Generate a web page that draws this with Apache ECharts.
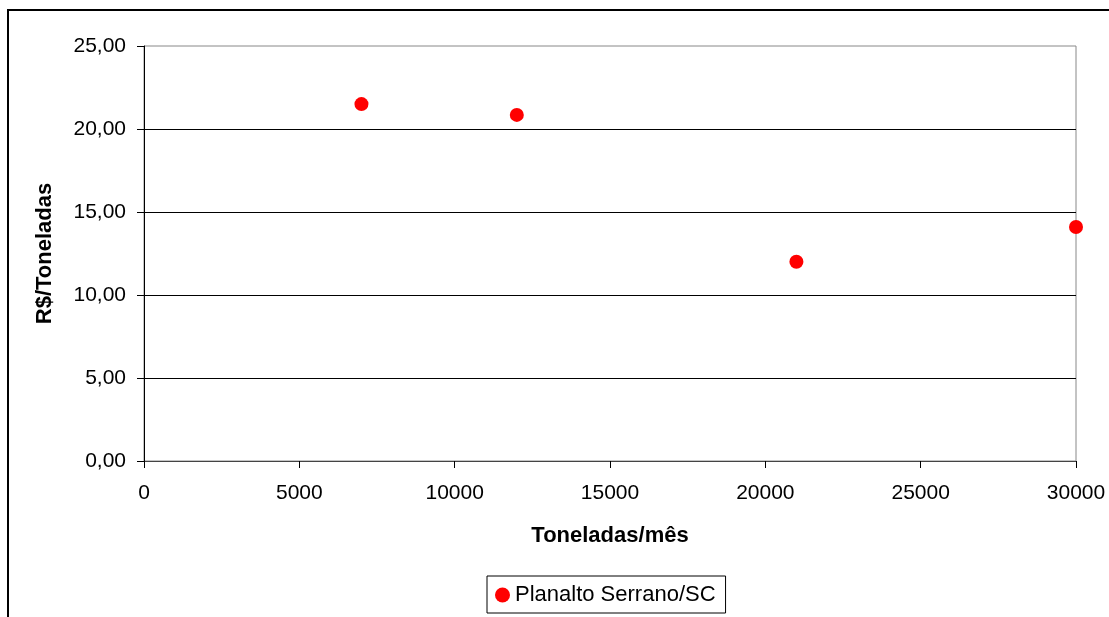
<!DOCTYPE html>
<html><head><meta charset="utf-8">
<script src="https://cdn.jsdelivr.net/npm/echarts@6/dist/echarts.min.js"></script>
<style>html,body{margin:0;padding:0;background:#fff}#c{width:1109px;height:617px}</style>
</head><body><div id="c"></div>
<script>
const seriesName = 'Planalto Serrano/SC';
const toneladas = [7000, 12000, 21000, 30000];
const precos = [21.5, 20.85, 12.0, 14.1];
const xTitle = 'Toneladas/mês';
const yTitle = 'R$/Toneladas';

const font = '"Liberation Sans", Arial, sans-serif';
const chart = echarts.init(document.getElementById('c'), null, {renderer: 'canvas'});
chart.setOption({
  backgroundColor: '#fff',
  animation: false,
  graphic: [{
    type: 'rect', shape: {x: 8, y: 10, width: 1120, height: 640},
    style: {fill: 'none', stroke: '#000', lineWidth: 2}, silent: true
  }],
  grid: {left: 144, right: 33, top: 46, bottom: 156, show: true, borderColor: '#888', borderWidth: 1, backgroundColor: 'transparent'},
  legend: {
    left: 487, top: 576, orient: 'horizontal',
    padding: [8, 10, 7, 8], borderColor: '#000', borderWidth: 1,
    itemWidth: 15, itemHeight: 15, itemGap: 5,
    textStyle: {fontFamily: font, fontSize: 22, color: '#000'},
    data: [{name: seriesName, icon: 'circle', itemStyle: {color: '#ff0000', opacity: 1}}]
  },
  xAxis: {
    type: 'value', min: 0, max: 30000, interval: 5000,
    name: xTitle, nameLocation: 'middle', nameGap: 64,
    nameTextStyle: {fontFamily: font, fontSize: 22, fontWeight: 'bold', color: '#000'},
    axisLine: {show: true, lineStyle: {color: '#444', width: 1}},
    axisTick: {show: true, inside: false, length: 7, lineStyle: {color: '#000'}},
    axisLabel: {fontFamily: font, fontSize: 21, color: '#000', margin: 22,
      formatter: v => String(v)},
    splitLine: {show: false}
  },
  yAxis: {
    type: 'value', min: 0, max: 25, interval: 5,
    name: yTitle, nameLocation: 'middle', nameGap: 88, nameRotate: 90,
    nameTextStyle: {fontFamily: font, fontSize: 22, fontWeight: 'bold', color: '#000'},
    axisLine: {show: true, lineStyle: {color: '#000', width: 1}},
    axisTick: {show: true, inside: false, length: 7, lineStyle: {color: '#000'}},
    axisLabel: {fontFamily: font, fontSize: 21, color: '#000', margin: 18,
      formatter: v => v.toFixed(2).replace('.', ',')},
    splitLine: {show: true, showMinLine: false, showMaxLine: false, lineStyle: {color: '#000', width: 1}}
  },
  series: [{
    name: seriesName, type: 'scatter', symbol: 'circle', symbolSize: 14,
    itemStyle: {color: '#ff0000', opacity: 1},
    data: toneladas.map((t, i) => [t, precos[i]]),
    z: 5
  }]
});
</script></body></html>
